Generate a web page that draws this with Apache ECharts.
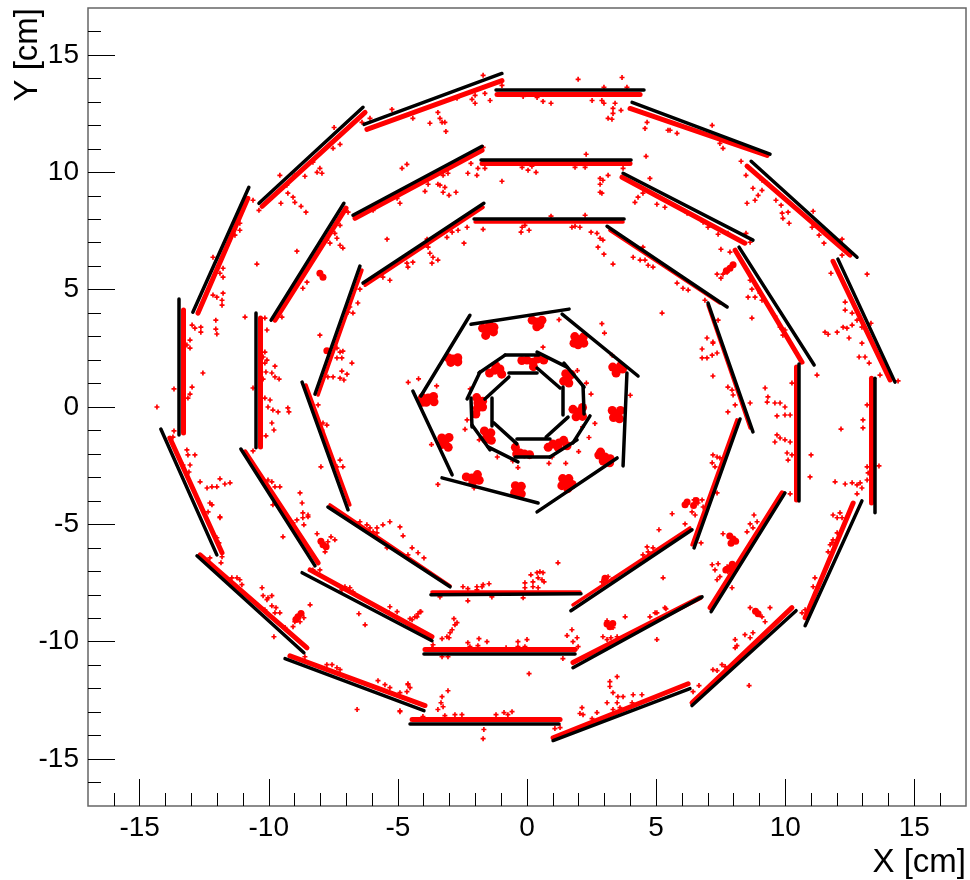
<!DOCTYPE html>
<html>
<head>
<meta charset="utf-8">
<style>html,body{margin:0;padding:0;background:#fff}#c{width:970px;height:880px}</style>
<script src="https://cdn.jsdelivr.net/npm/echarts@6/dist/echarts.min.js"></script>
</head>
<body>
<div id="c"></div>
<script>
// Detector modules: [x1, y1, x2, y2] in cm
const outerModules = [
[-1.2,13.5,4.53,13.5],[4.07,12.98,9.41,10.77],[8.68,10.47,12.78,6.38],[12.04,6.30,14.25,1.06],
[13.48,1.23,13.48,-4.51],[12.97,-4.0,10.77,-9.32],[10.42,-8.68,6.39,-12.72],[6.31,-12.0,1.01,-14.21],
[1.24,-13.49,-4.53,-13.49],[-3.99,-12.94,-9.37,-10.72],[-8.64,-10.47,-12.78,-6.34],[-12.01,-6.30,-14.18,-0.94],
[-13.48,-1.19,-13.48,4.6],[-12.94,4.04,-10.77,9.36],[-10.38,8.68,-6.35,12.77],[-6.31,12.04,-0.97,14.21]];
const middleModules = [
[-1.78,10.55,4.03,10.55],[3.72,9.96,8.75,7.11],[8.21,6.81,11.12,1.79],[10.53,1.83,10.53,-4.0],
[9.99,-3.66,7.13,-8.72],[6.78,-8.09,1.78,-11.11],[1.86,-10.51,-3.99,-10.51],[-3.68,-9.96,-8.71,-7.06],
[-8.21,-6.77,-11.08,-1.79],[-10.5,-1.74,-10.5,4.0],[-9.91,3.7,-7.09,8.68],[-6.74,8.17,-1.74,11.11]];
const innerModules = [
[-2.05,8.0,3.76,8.0],[3.1,7.7,7.75,4.26],[7.01,4.43,8.75,-1.06],[8.25,-0.51,6.47,-6.0],
[6.39,-5.23,1.7,-8.68],[2.09,-7.96,-3.72,-8.0],[-2.98,-7.66,-7.71,-4.26],[-6.93,-4.38,-8.71,1.06],
[-8.21,0.55,-6.47,6.0],[-6.35,5.28,-1.67,8.68]];
const heptaModules = [
[-2.17,3.53,1.63,4.17],[1.36,3.96,4.3,1.32],[3.87,1.45,3.72,-2.51],[3.49,-2.17,0.39,-4.47],
[0.43,-4.09,-3.29,-3.02],[-2.9,-2.89,-4.42,0.68],[-4.11,0.47,-2.21,3.91]];
const dodecaModules = [
[-0.85,2.21,0.46,2.21],[0.39,2.34,1.55,1.70],[1.43,1.87,2.21,0.85],[2.17,0.89,2.21,-0.3],
[2.44,-0.38,1.78,-1.53],[1.94,-1.4,0.89,-2.13],[0.89,-2.13,-0.46,-2.13],[-0.35,-2.34,-1.51,-1.7],
[-1.43,-1.83,-2.13,-0.77],[-2.13,-0.85,-2.17,0.38],[-2.32,0.34,-1.82,1.49],[-1.86,1.45,-0.85,2.21]];
const octaModules = [
[-0.7,1.45,0.39,1.45],[0.39,1.66,1.28,0.81],[1.39,0.85,1.39,-0.34],[1.59,-0.43,0.74,-1.28],
[0.89,-1.36,-0.39,-1.36],[-0.39,-1.57,-1.28,-0.68],[-1.36,-0.81,-1.36,0.38],[-1.63,0.34,-0.7,1.28]];

// Dense runs of hits that hug a module: [x1, y1, x2, y2] in cm
const outerRuns = [
[-1.16,13.34,4.38,13.34],[3.99,12.72,9.3,10.72],[8.52,10.26,12.51,6.47],[11.85,6.21,14.06,1.15],
[13.32,1.23,13.32,-4.09],[12.63,-4.09,10.77,-8.98],[10.26,-8.55,6.39,-12.6],[6.24,-11.79,1.01,-14.09],
[-4.45,-13.32,1.28,-13.32],[-3.95,-12.72,-9.18,-10.6],[-8.52,-10.26,-12.66,-6.3],[-11.81,-6.21,-13.83,-1.32],
[-13.32,4.13,-13.32,-1.11],[-12.74,4.0,-10.81,8.89],[-10.26,8.55,-6.27,12.55],[-6.2,11.83,-0.97,13.91]];
const middleRuns = [
[-1.74,10.38,3.99,10.38],[3.68,9.79,8.44,6.98],[8.06,6.68,10.65,1.91],[10.42,1.70,10.42,-3.96],
[9.88,-3.66,7.09,-8.55],[6.7,-8.13,1.78,-10.89],[-3.95,-10.34,1.86,-10.34],[-3.68,-9.79,-8.4,-6.94],
[-8.09,-6.64,-10.92,-1.91],[-10.34,3.79,-10.34,-1.7],[-9.76,3.7,-7.01,8.47],[-6.66,8.04,-1.74,10.94]];
const innerRuns = [
[-2.01,7.91,3.72,7.91],[3.21,7.53,7.47,4.43],[7.01,4.34,8.64,-0.89],[8.13,-0.55,6.39,-5.87],
[1.78,-8.43,6.31,-5.15],[-3.68,-7.87,2.05,-7.87],[-2.98,-7.62,-7.63,-4.17],[-6.86,-4.17,-8.56,0.94],
[-8.09,0.51,-6.39,5.83],[-6.27,5.19,-1.7,8.51]];

// Individual hits: [x, y] in cm
const hitsUpperLeft = [
[-9.57,9.87],[-7.47,11.91],[-6.39,12.13],[-8.02,10.17],[-8.13,10.0],[-7.94,9.96],[-8.6,9.83],[-8.99,9.87],[-9.26,9.11],[-9.06,8.94],
[-8.99,8.72],[-8.75,8.55],[-8.56,8.3],[-9.53,8.68],[-10.38,8.38],[-10.61,8.81],[-9.3,9.45],[-7.51,11.02],[-7.24,11.19],[-8.29,10.43],
[-11.12,7.53],[-11.31,7.32],[-11.12,7.83],[-12.16,6.38],[-11.77,5.91],[-11.89,5.7],[-11.77,5.53],[-11.77,4.85],[-12.01,4.68],[-11.81,4.55],
[-11.81,4.34],[-12.16,4.77],[-10.46,6.09],[-8.91,6.64],[-7.24,7.74],[-7.44,7.4],[-7.75,7.11],[-7.63,6.98],[-7.36,7.19],[-7.24,6.89],
[-7.13,6.77],[-8.52,5.32],[-8.68,5.06],[-6.93,8.3],[-5.42,7.15],[-6.47,5.02],[-5.31,5.4],[-5.58,5.53],[-4.65,6.13],[-4.84,10.17],
[-4.65,10.34],[-5.03,8.89],[-4.92,8.68],[-5.96,8.38],[-6.08,12.3],[-5.23,12.68]];
const hitsTop = [
[-1.7,14.13],[-0.97,13.7],[-2.01,13.28],[-1.63,13.36],[-1.43,13.06],[-2.01,12.94],[-2.13,13.11],[-2.71,13.15],[-3.45,12.55],[-3.37,12.3],
[-3.29,12.13],[-3.18,12.13],[-3.14,11.74],[-3.76,12.09],[-4.42,12.3],[1.98,13.96],[3.68,14.04],[2.98,13.62],[3.87,13.62],[0.62,13.02],
[0.93,12.94],[0.39,13.19],[-0.15,13.23],[2.52,13.06],[2.9,13.06],[2.98,12.94],[3.41,12.94],[3.33,12.72],[3.33,12.51],[3.64,12.64],
[3.14,12.3],[3.29,12.26],[4.65,12.13],[4.57,11.87],[5.46,11.79],[-3.25,9.87],[-3.37,9.45],[-3.18,9.36],[-3.25,9.15],[-3.02,9.02],
[-2.75,9.15],[-3.45,9.49],[-3.95,9.19],[-3.83,9.49],[-3.06,9.96],[-2.29,9.96],[-2.17,10.38],[-1.9,10.17],[-1.94,9.87],[-1.7,11.06],
[-1.63,10.17],[2.29,10.77],[-0.97,9.62],[-0.19,10.21],[0.04,10.09],[0.35,10.0],[0.19,10.26],[1.86,10.21],[2.25,10.21],[2.83,9.74],
[3.14,9.87],[2.94,9.66],[2.83,9.49],[2.83,9.15],[2.9,9.11],[3.72,10.17],[4.61,10.68],[4.76,9.74],[4.49,9.11],[4.3,8.94],
[4.18,8.72],[5.03,8.64],[5.34,8.51],[-4.42,6.17],[-4.61,5.96],[-3.83,6.81],[-3.76,6.55],[-3.64,6.38],[-3.45,6.26],[-3.68,6.13],
[-3.87,7.15],[-2.67,7.53],[-2.44,6.98],[-2.32,7.66],[-3.1,7.23],[-2.9,7.45],[0.93,8.13],[2.25,8.17],[-1.7,7.57],[-0.19,7.66],
[-0.23,7.45],[0.08,7.53],[-0.08,7.74],[1.74,7.66],[2.05,7.66],[1.86,7.7],[2.48,7.45],[2.71,7.4],[2.83,7.19],[2.94,7.11],
[2.75,6.81],[2.98,6.51],[3.33,6.09],[4.11,6.38],[4.38,6.26],[4.57,6.26],[4.69,6.04],[4.88,5.96],[4.49,6.81]];
const hitsUpperRight = [
[7.17,12.0],[5.81,11.66],[5.54,11.79],[7.59,11.02],[7.47,11.23],[8.29,10.47],[8.48,9.87],[9.1,9.66],[9.3,9.53],[8.75,9.32],
[9.1,9.23],[8.95,9.02],[8.83,8.81],[8.52,8.68],[9.64,8.81],[9.84,8.6],[10.11,8.3],[9.88,8.26],[9.91,8.04],[10.15,7.83],
[11.08,8.34],[11.04,7.66],[11.31,7.32],[11.5,6.98],[12.2,7.15],[12.2,6.47],[11.77,5.7],[13.17,5.66],[12.32,4.47],[12.32,4.13],
[12.59,4.0],[12.78,3.7],[12.59,3.49],[12.24,3.4],[12.39,3.36],[12.01,3.19],[11.54,3.19],[11.66,3.1],[12.47,2.94],[12.97,3.4],
[13.32,3.57],[6.2,8.26],[6.82,7.87],[7.01,7.66],[7.4,7.36],[7.78,7.4],[8.48,7.4],[8.64,7.02],[7.51,6.72],[7.86,6.6],
[7.75,5.74],[7.59,5.66],[7.94,6.04],[7.36,5.66],[7.51,5.49],[8.64,5.4],[8.71,5.02],[8.56,4.68],[8.83,4.68],[9.02,4.85],
[9.1,4.55],[8.71,3.79],[9.6,3.87],[9.8,3.4],[9.99,3.28],[9.91,3.06],[5.81,5.28],[6.04,5.06],[6.24,4.98],[6.89,4.55],
[5.23,4.0],[7.4,3.7],[6.97,2.94],[7.2,2.72],[6.78,2.47]];
const hitsRight = [
[6.78,2.09],[6.97,2.09],[7.17,2.21],[7.36,2.3],[7.2,2.77],[7.2,1.32],[7.94,0.72],[7.78,0.85],[7.98,0.51],[8.64,0.17],
[7.78,-0.21],[8.06,0.09],[9.22,0.81],[9.33,0.43],[9.3,0.21],[9.6,0.17],[9.8,0.17],[9.99,0],[9.68,-0.38],[9.99,-0.34],
[10.19,-0.34],[10.26,1.02],[11.23,1.36],[9.68,-1.19],[9.8,-1.32],[9.99,-1.4],[9.6,-1.49],[10.19,-1.49],[10.07,-1.96],[10.11,-2.26],
[10.26,-2.04],[11.0,-2.04],[10.96,-2.98],[10.19,-3.7],[13.01,-0.55],[13.01,-0.89],[13.17,0.09],[12.16,-0.94],[13.63,-2.51],[13.17,-2.55],
[13.21,-2.81],[11.93,-3.19],[12.32,-3.28],[12.59,-3.23],[12.78,-3.32],[12.9,-3.23],[12.97,-3.45],[12.78,-3.7],[13.17,-3.11],[12.97,2.72],
[12.86,2.13],[13.09,2.13],[13.25,1.87],[13.67,1.36],[14.37,1.11],[7.2,-2.04],[7.47,-2.17],[7.17,-2.38],[7.28,-2.55],[7.36,-2.13],
[6.78,-3.96],[6.62,-4.09],[6.82,-4.26],[6.47,-3.96],[6.39,-4.47],[6.51,-4.6],[6.12,-4.98],[5.62,-4.55],[6.74,-5.79],[7.36,-3.66]];
const hitsLowerRight = [
[8.79,-4.6],[8.64,-4.98],[8.91,-4.89],[8.75,-5.15],[8.52,-5.32],[7.59,-5.4],[7.17,-6.72],[7.4,-6.68],[7.28,-6.94],[7.75,-6.81],
[7.47,-7.23],[7.78,-7.02],[11.85,-4.6],[12.12,-4.51],[12.01,-4.72],[12.2,-4.72],[12.01,-5.36],[11.85,-5.66],[11.74,-5.87],[11.66,-6.17],
[11.15,-7.28],[11.08,-7.66],[5.11,-5.23],[5.03,-9.91],[5.34,-8.55],[4.96,-8.77],[7.36,-7.36],[7.94,-7.7],[5.27,-7.28],[8.64,-8.55],
[8.83,-8.68],[9.1,-8.94],[9.22,-9.15],[9.41,-8.55],[8.44,-9.7],[8.64,-9.83],[8.75,-9.62],[8.06,-9.91],[8.13,-10.17],[8.06,-10.26],
[8.6,-11.87],[7.55,-10.98],[7.36,-11.23],[7.67,-11.06],[7.2,-11.19],[6.66,-11.87],[6.43,-12.13],[10.65,-8.77],[10.77,-8.64],[11.81,-5.79]];
const hitsBottom = [
[-2.48,-7.66],[-2.29,-7.74],[-1.94,-7.66],[-1.74,-7.66],[-1.7,-7.57],[-1.94,-7.79],[-1.47,-7.53],[-2.29,-8.26],[-3.37,-8.09],[-1.36,-8.09],
[-0.15,-8.13],[-0.08,-7.49],[-0.08,-7.7],[0.15,-7.15],[0.23,-7.45],[0.23,-7.66],[0.43,-7.7],[0.39,-7.06],[0.5,-7.02],[0.62,-7.06],
[0.43,-7.28],[0.58,-7.36],[0.66,-7.45],[1.2,-6.64],[2.9,-7.45],[3.14,-7.23],[3.02,-7.49],[3.29,-7.36],[4.38,-6.64],[4.65,-5.96],
[4.69,-6.17],[4.49,-6.3],[4.88,-6.0],[-4.53,-9.02],[-4.34,-8.94],[-4.22,-8.81],[-4.11,-8.72],[-3.64,-10.13],[-3.68,-10.26],[-3.29,-9.87],
[-3.1,-9.79],[-2.98,-9.62],[-2.9,-9.49],[-2.79,-9.28],[-2.71,-9.19],[-2.83,-9.02],[-3.02,-9.83],[-2.29,-10.04],[-2.21,-10.21],[-1.86,-9.87],
[-1.9,-10.17],[-1.55,-10.0],[-3.29,-10.64],[-3.06,-10.64],[-0.81,-10.26],[-0.35,-10.0],[0,-9.91],[-0.35,-10.21],[-0.08,-10.21],[0.08,-11.36],
[1.39,-10.72],[1.55,-9.74],[1.74,-9.49],[1.94,-9.83],[1.78,-10.0],[1.98,-10.21],[1.86,-10.34],[2.94,-9.79],[3.1,-9.11],[3.33,-9.4],
[3.1,-9.91],[3.25,-9.83],[3.49,-9.79],[3.8,-8.94],[4.76,-8.94],[5.03,-8.77],[5.38,-8.6],[-4.92,-12.98],[-4.61,-11.83],[-4.53,-11.96],
[-4.65,-12.13],[-3.29,-12.34],[-3.06,-12.09],[-3.33,-12.6],[-3.25,-12.77],[-3.45,-12.89],[-4.03,-13.19],[-3.18,-13.15],[-2.79,-13.11],[-2.52,-13.11],
[-1.2,-13.11],[-0.89,-13.02],[-0.74,-13.11],[-0.58,-12.98],[-1.67,-13.74],[-1.7,-14.13],[1.08,-13.7],[1.28,-13.66],[2.13,-12.81],[2.05,-13.06],
[2.17,-13.11],[2.71,-13.02],[2.52,-13.28],[3.1,-12.6],[3.21,-11.7],[3.49,-11.49],[3.21,-11.91],[3.33,-12.17],[3.52,-12.34],[3.72,-12.34],
[3.49,-12.6],[3.33,-12.89],[3.6,-12.81],[4.11,-12.26],[4.45,-12.26],[4.07,-12.6]];
const hitsLowerLeft = [
[-12.2,-4.17],[-11.89,-4.68],[-12.35,-4.47],[-12.28,-4.09],[-12.01,-5.57],[-11.93,-5.79],[-11.81,-6.38],[-11.85,-6.64],[-12.28,-6.43],[-11.23,-7.28],
[-11.12,-7.36],[-11.43,-7.28],[-11.04,-7.57],[-10.26,-7.7],[-10.22,-8.04],[-10.07,-8.21],[-9.88,-8.04],[-10.03,-8.13],[-9.88,-8.47],[-9.72,-8.55],
[-9.76,-8.77],[-9.57,-8.77],[-10.15,-8.64],[-8.4,-8.43],[-8.64,-8.98],[-8.99,-9.15],[-9.06,-9.36],[-8.79,-9.15],[-9.8,-9.79],[-9.37,-9.4],
[-8.6,-10.64],[-7.75,-10.98],[-7.55,-10.98],[-7.36,-11.11],[-7.24,-11.19],[-6.58,-12.89],[-5.77,-11.66],[-5.5,-11.83],[-5.31,-11.96],[-4.92,-12.94],
[-4.61,-11.79],[-4.92,-12.17],[-8.13,-5.4],[-7.59,-5.53],[-7.44,-5.66],[-7.71,-5.74],[-7.82,-6.17],[-9.45,-5.53],[-8.02,-6.94],[-8.29,-6.94],
[-7.05,-7.66],[-6.86,-7.7],[-6.74,-7.87],[-7.17,-7.79],[-5.31,-8.51],[-5.03,-8.72],[-5.34,-8.77],[-4.14,-8.72],[-4.26,-8.94],[-4.45,-9.06],
[-6.51,-8.81],[-6.27,-9.28],[-6.2,-5.02],[-6.08,-5.15],[-5.81,-5.15],[-5.58,-5.02],[-5.31,-4.89],[-5.81,-5.36],[-4.92,-5.11],[-4.8,-5.49],
[-3.99,-6.43],[-4.45,-6.0],[-4.22,-6.21],[-4.61,-6.3],[-5.42,-6.0],[-8.71,-4.09],[-8.48,-4.6],[-8.68,-4.51],[-8.91,-4.81],[-9.06,-4.94],[-8.64,-5.02]];
const hitsLeft = [
[-14.33,0],[-13.67,0.77],[-12.97,0.85],[-13.05,0.55],[-13.13,0.38],[-12.55,1.45],[-12.97,3.49],[-12.86,3.36],[-12.63,3.4],[-12.63,3.19],
[-12.05,3.7],[-12.05,3.32],[-12.01,3.11],[-13.05,2.85],[-13.05,2.51],[-13.17,2.64],[-13.67,-1.02],[-13.71,-1.28],[-13.17,-1.83],[-13.13,-2.04],
[-12.86,-2.04],[-13.05,-2.47],[-13.32,-2.47],[-13.09,-2.77],[-12.66,-3.19],[-12.39,-3.45],[-12.2,-3.4],[-12.01,-3.4],[-11.89,-3.06],[-11.7,-3.28],
[-11.5,-3.23],[-11.89,-4.72],[-10.92,3.83],[-10.07,3.28],[-10.15,3.79],[-9.49,3.83],[-10.15,2.34],[-10.22,2.13],[-10.07,2.0],[-10.15,1.87],
[-10.11,1.49],[-9.88,1.45],[-9.76,1.74],[-9.76,1.28],[-9.6,1.19],[-10.22,1.19],[-10.61,0.81],[-10.15,0.38],[-9.95,0.3],[-10.03,0],
[-9.84,-0.13],[-9.64,-0.21],[-9.26,-0.04],[-9.22,-0.21],[-9.88,-0.68],[-9.8,-0.98],[-10.11,-1.23],[-10.61,-1.87],[-8.79,-3.66],[-10.03,-3.11],
[-9.88,-3.19],[-9.76,-3.4],[-9.57,-3.4],[-9.84,-4.17],[-8.68,-4.72],[-8.48,-4.68],[-8.02,3.06],[-7.9,-0.68],[-8.09,0.09],[-7.75,-0.77],
[-7.94,-0.98],[-7.36,2.51],[-7.24,2.34],[-7.13,2.38],[-7.36,2.09],[-7.17,2.09],[-6.78,1.87],[-7.71,1.28],[-7.51,1.28],[-7.24,1.23],
[-7.09,1.15],[-7.17,1.53],[-6.97,1.4],[-6.86,4.26],[-6.74,4.0],[-6.55,4.43],[-6.93,4.04],[-7.24,-2.26],[-7.36,-2.55],[-7.13,-2.55],
[-7.98,-2.55],[-5.96,-5.32],[-6.47,-4.89]];
// Hits scattered around the two innermost rings
const hitsCentre = [
[1.24,3.72],[3.0,3.15],[0.58,1.98],[0.62,2.55],[2.63,-0.7],[2.4,-1.3],[0.85,-2.4],[2.15,-0.85],[-0.35,-2.58],[-2.32,-0.55],
[-2.4,-0.95],[-2.2,0.77],[2.48,0.55],[2.3,1.02],[1.95,1.55],[0.97,-2.13],[-0.55,-2.3],[-1.15,-2.13],[-1.85,-1.4],[1.5,-2.4],
[2.0,-1.9],[3.3,2.2],[4.0,0.5],[2.9,3.55],[-4.6,1.05],[-3.45,-3.3],[-3.5,0.9],[-4.2,1.2],[-2.05,-3.45],[-3.7,-1.6]];

// Tight blobs of hits, too dense to separate by eye
const centreBlobs = [
[-1.51,3.28],[-1.72,3.36],[-1.3,3.2],[-1.45,3.5],[-1.6,3.05],[-1.28,3.4],[0.39,3.62],[0.2,3.7],[0.58,3.7],[0.38,3.42],[0.5,3.5],
[2.01,2.85],[1.85,3.0],[2.18,2.98],[1.98,2.65],[2.2,2.72],[1.82,2.72],[3.52,1.62],[3.32,1.7],[3.7,1.62],[3.45,1.45],[3.62,1.75],
[3.49,-0.3],[3.3,-0.15],[3.62,-0.15],[3.35,-0.45],[3.58,-0.5],[3.02,-2.13],[2.78,-2.05],[3.22,-2.2],[2.95,-2.3],[3.2,-2.38],[2.85,-1.92],
[1.51,-3.23],[1.38,-3.05],[1.62,-3.05],[1.35,-3.35],[1.58,-3.48],[1.75,-3.3],[-0.35,-3.53],[-0.45,-3.35],[-0.22,-3.38],[-0.48,-3.65],[-0.22,-3.7],
[-2.13,-3.02],[-2.35,-2.98],[-1.92,-2.88],[-2.1,-3.2],[-1.85,-3.12],[-3.18,-1.49],[-3.3,-1.32],[-3.02,-1.3],[-3.3,-1.6],[-3.05,-1.72],
[-3.83,0.38],[-4.05,0.4],[-3.62,0.45],[-3.9,0.2],[-3.6,0.22],[-4.05,0.2],[-2.87,2.04],[-3.05,2.1],[-2.68,2.1],[-2.95,1.9],[-2.68,1.92],
[0.23,1.91],[0.0,2.0],[0.42,2.05],[0.25,1.72],[-0.2,1.98],[0.65,2.0],[1.59,1.23],[1.5,1.42],[1.62,1.02],[1.42,1.1],[1.72,1.38],
[1.98,-0.21],[1.78,-0.1],[2.15,-0.02],[1.9,-0.42],[2.15,-0.4],[1.24,-1.53],[1.0,-1.58],[1.42,-1.42],[1.2,-1.72],[0.82,-1.72],[1.55,-1.65],
[-0.27,-1.96],[-0.45,-1.72],[-0.1,-2.0],[-0.4,-2.0],[0.1,-2.03],[-1.55,-1.19],[-1.65,-1.02],[-1.4,-1.1],[-1.6,-1.38],[-1.38,-1.42],
[-1.9,0.17],[-1.95,0.4],[-1.72,0.25],[-1.92,-0.05],[-1.72,0.0],[-1.98,-0.3],[-1.24,1.57],[-1.45,1.45],[-1.05,1.62],[-1.2,1.75],[-0.98,1.4]];
const ringBlobs = [
[7.86,5.91],[7.98,6.06],[7.72,5.8],[-8.02,5.7],[-7.9,5.53],[6.12,-4.17],[6.2,-4.05],[6.55,-3.98],[6.45,-4.2],[7.98,-5.62],[7.85,-5.5],[8.08,-5.72],
[7.9,-5.8],[-7.9,-5.87],[-7.78,-5.95],[-7.98,-5.72],[-8.87,-8.94],[-8.75,-8.8],[-8.95,-9.05],[3.21,-9.36],[3.1,-9.25],[3.32,-9.22],[8.95,-8.81],[8.85,-8.7],
[7.86,-6.85],[7.7,-6.95],[7.95,-6.7],[3.02,-7.3],[-7.75,2.4]];

const majorTicks = [-15,-10,-5,0,5,10,15];
const minorTicks = [-16,-14,-13,-12,-11,-9,-8,-7,-6,-4,-3,-2,-1,1,2,3,4,6,7,8,9,11,12,13,14,16];
const axisRange = [-17, 17];
const xTitle = 'X [cm]';
const yTitle = 'Y [cm]';

const FONT = '"Liberation Sans", Arial, sans-serif';
const toCoords = list => list.map(s => ({coords: [[s[0], s[1]], [s[2], s[3]]]}));
const PLUS = 'path://M1 0H2V1H3V2H2V3H1V2H0V1H1Z';

const modules = [].concat(outerModules, middleModules, innerModules, heptaModules, dodecaModules, octaModules);
const hits = [].concat(hitsUpperLeft, hitsTop, hitsUpperRight, hitsRight, hitsLowerRight, hitsBottom, hitsLowerLeft, hitsLeft, hitsCentre);

function runSeries(name, list, width) {
  return {name, type: 'lines', coordinateSystem: 'cartesian2d', xAxisIndex: 0, yAxisIndex: 0, polyline: false, silent: true, z: 2,
    lineStyle: {color: '#ff0000', width, opacity: 1, cap: 'round'}, data: toCoords(list)};
}
function blobSeries(name, list, size) {
  return {name, type: 'scatter', xAxisIndex: 0, yAxisIndex: 0, symbol: 'circle', symbolSize: size, silent: true, z: 3,
    itemStyle: {color: '#ff0000', opacity: 1}, data: list};
}
function axisPair(dim) {
  const isX = dim === 'x';
  const base = {type: 'value', min: axisRange[0], max: axisRange[1], position: isX ? 'bottom' : 'left',
    splitLine: {show: false}, axisLine: {show: false, onZero: false}};
  return [
    Object.assign({}, base, {
      name: isX ? xTitle : yTitle, nameLocation: 'end', nameGap: 0,
      nameRotate: isX ? 0 : 90,
      nameTextStyle: isX
        ? {fontFamily: FONT, fontSize: 33, color: '#000', align: 'right', verticalAlign: 'top', padding: [40, 0, 0, 0]}
        : {fontFamily: FONT, fontSize: 33, color: '#000', align: 'right', verticalAlign: 'bottom', padding: [0, 0, 44, 0]},
      axisTick: {show: true, inside: true, length: 27, customValues: majorTicks, lineStyle: {color: '#000', width: 1}},
      axisLabel: {show: true, customValues: majorTicks, fontFamily: FONT, fontSize: 28, color: '#000', margin: isX ? 8 : 9}
    }),
    Object.assign({}, base, {
      axisTick: {show: true, inside: true, length: 13, customValues: minorTicks, lineStyle: {color: '#000', width: 1}},
      axisLabel: {show: false}
    })
  ];
}

const chart = echarts.init(document.getElementById('c'), null, {renderer: 'canvas'});
chart.setOption({
  animation: false,
  backgroundColor: '#fff',
  grid: {left: 88, right: 4, top: 8, bottom: 74, show: true, borderColor: '#666', borderWidth: 1.5, backgroundColor: 'transparent', containLabel: false},
  xAxis: axisPair('x'),
  yAxis: axisPair('y'),
  series: [
    runSeries('Outer hit runs', outerRuns, 5),
    runSeries('Middle hit runs', middleRuns, 5),
    runSeries('Inner hit runs', innerRuns, 3.5),
    blobSeries('Centre hit blobs', centreBlobs, 9),
    blobSeries('Ring hit blobs', ringBlobs, 7),
    {name: 'Hits', type: 'scatter', xAxisIndex: 0, yAxisIndex: 0, symbol: PLUS, symbolSize: 5, silent: true, z: 3, large: false,
      itemStyle: {color: '#ff0000', opacity: 1}, data: hits},
    {name: 'Modules', type: 'lines', coordinateSystem: 'cartesian2d', xAxisIndex: 0, yAxisIndex: 0, polyline: false, silent: true, z: 5,
      lineStyle: {color: '#000', width: 3.5, opacity: 1, cap: 'round'}, data: toCoords(modules)}
  ]
});
</script>
</body>
</html>
